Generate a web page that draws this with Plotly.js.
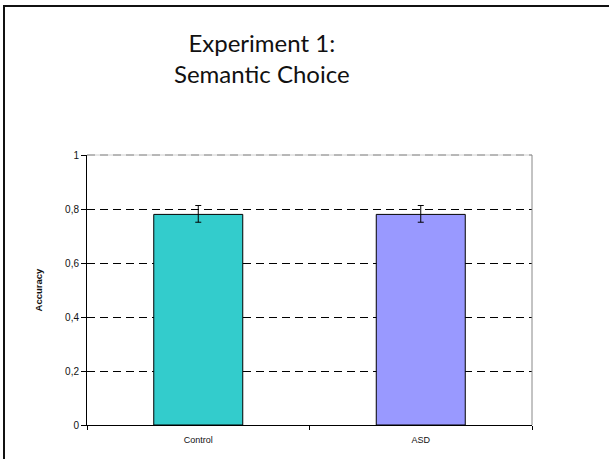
<!DOCTYPE html>
<html>
<head>
<meta charset="utf-8">
<script src="https://cdn.plot.ly/plotly-3.0.1.min.js"></script>
<style>
html,body{margin:0;padding:0;background:#fff;overflow:hidden;}
#wrap{position:relative;width:609px;height:459px;overflow:hidden;}
#chart{width:609px;height:459px;}
#frame{position:absolute;left:3px;top:5px;width:700px;height:600px;border:2px solid #111;pointer-events:none;}
</style>
</head>
<body>
<div id="wrap">
<div id="chart"></div>
<div id="frame"></div>
</div>
<script>
const categories = ["Control", "ASD"];
const accuracy = [0.78, 0.78];
const errorUp = [0.033, 0.033];
const errorDown = [0.029, 0.029];
const barColors = ["#33CCCC", "#9999FF"];
const yTickVals = [0, 0.2, 0.4, 0.6, 0.8, 1];
const titleText = "Experiment 1:<br>Semantic Choice";
const yTitle = "Accuracy";

const trace = {
  type: "bar",
  x: categories,
  y: accuracy,
  marker: {color: barColors, line: {color: "#000", width: 1}},
  error_y: {type: "data", symmetric: false, array: errorUp, arrayminus: errorDown,
            color: "#000", thickness: 1, width: 3},
  hoverinfo: "skip"
};

const layout = {
  width: 609, height: 459,
  margin: {l: 87, r: 77, t: 155, b: 34, pad: 0},
  paper_bgcolor: "#fff", plot_bgcolor: "#fff",
  separators: ", ",
  showlegend: false,
  bargap: 0.6,
  font: {family: "Liberation Sans, Arial, sans-serif", size: 10, color: "#111"},
  annotations: [
    {text: titleText, xref: "paper", yref: "paper", x: (262 - 87) / 445, y: 1.361,
     xanchor: "center", yanchor: "middle", showarrow: false,
     font: {family: "Lato, 'Open Sans', sans-serif", size: 24, color: "#111"}}
  ],
  xaxis: {type: "category", showgrid: false, showline: true, linecolor: "#000", linewidth: 1,
          ticks: "outside", tickson: "boundaries", ticklen: 4, tickcolor: "#000",
          ticklabelstandoff: 6,
          tickfont: {size: 9, color: "#111"}, fixedrange: true, zeroline: false},
  yaxis: {range: [0, 1], tickvals: yTickVals, tickformat: ".1~f",
          showline: true, linecolor: "#000", linewidth: 1,
          ticks: "outside", ticklen: 5, tickcolor: "#000",
          showgrid: true, gridcolor: "#000", gridwidth: 1, griddash: "8px,5px",
          zeroline: false, tickfont: {size: 10, color: "#111"},
          title: {text: "<b>" + yTitle + "</b>", font: {size: 9.5, color: "#111"}, standoff: 20},
          fixedrange: true},
  shapes: [
    {type: "line", xref: "paper", yref: "paper", x0: 0, x1: 1, y0: 1, y1: 1,
     line: {color: "#d0d0d0", width: 1}, layer: "above"},
    {type: "line", xref: "paper", yref: "paper", x0: 0, x1: 1, y0: 1, y1: 1,
     line: {color: "#888", width: 1, dash: "8px,5px"}, layer: "above"},
    {type: "line", xref: "paper", yref: "paper", x0: 1, x1: 1, y0: 0, y1: 1,
     line: {color: "#888", width: 1}, layer: "above"}
  ]
};

Plotly.newPlot("chart", [trace], layout, {displayModeBar: false, staticPlot: true});
</script>
</body>
</html>
